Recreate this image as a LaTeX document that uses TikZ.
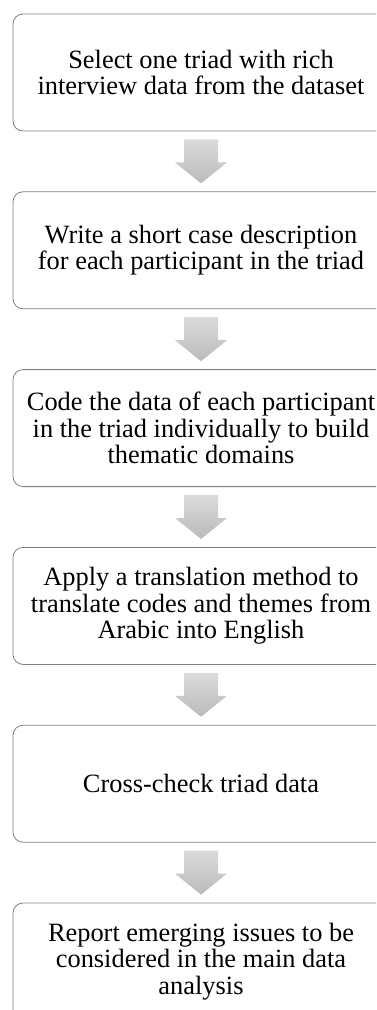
\documentclass[tikz,border=0pt]{standalone}
\usepackage{fontspec}
\setmainfont{Liberation Serif}
\usetikzlibrary{positioning, calc}

\begin{document}
\begin{tikzpicture}[
    node distance=60pt,
    stepbox/.style={rectangle, draw=black!50, fill=white, line width=0.8pt, minimum width=376pt, minimum height=117pt, align=center, rounded corners=10pt, font=\fontsize{26.4pt}{26.5pt}\selectfont},
    flowarrow/.style={top color=black!14, bottom color=black!27, draw=none},
]
\clip (0,0) rectangle (376pt,-1010pt);
\node[stepbox] (select) at (201pt,-72.5pt) {Select one triad with rich\\interview data from the dataset};
\node[stepbox, below=of select] (describe) {Write a short case description\\for each participant in the triad};
\node[stepbox, below=of describe] (code) {Code the data of each participant\\in the triad individually to build\\thematic domains};
\node[stepbox, below=of code] (translate) {Apply a translation method to\\translate codes and themes from\\Arabic into English};
\node[stepbox, below=of translate] (check) {Cross-check triad data};
\node[stepbox, below=of check] (report) {Report emerging issues to be\\considered in the main data\\analysis};
\foreach \a/\b in {select/describe, describe/code, code/translate, translate/check, check/report}
  \path[flowarrow] ($(\a.south)+(-17pt,-8pt)$) -- ++(34pt,0) -- ++(0,-23pt) -- ++(9pt,0) -- ($(\b.north)+(0,8pt)$) -- ++(-26pt,21pt) -- ++(9pt,0) -- cycle;
\end{tikzpicture}
\end{document}
